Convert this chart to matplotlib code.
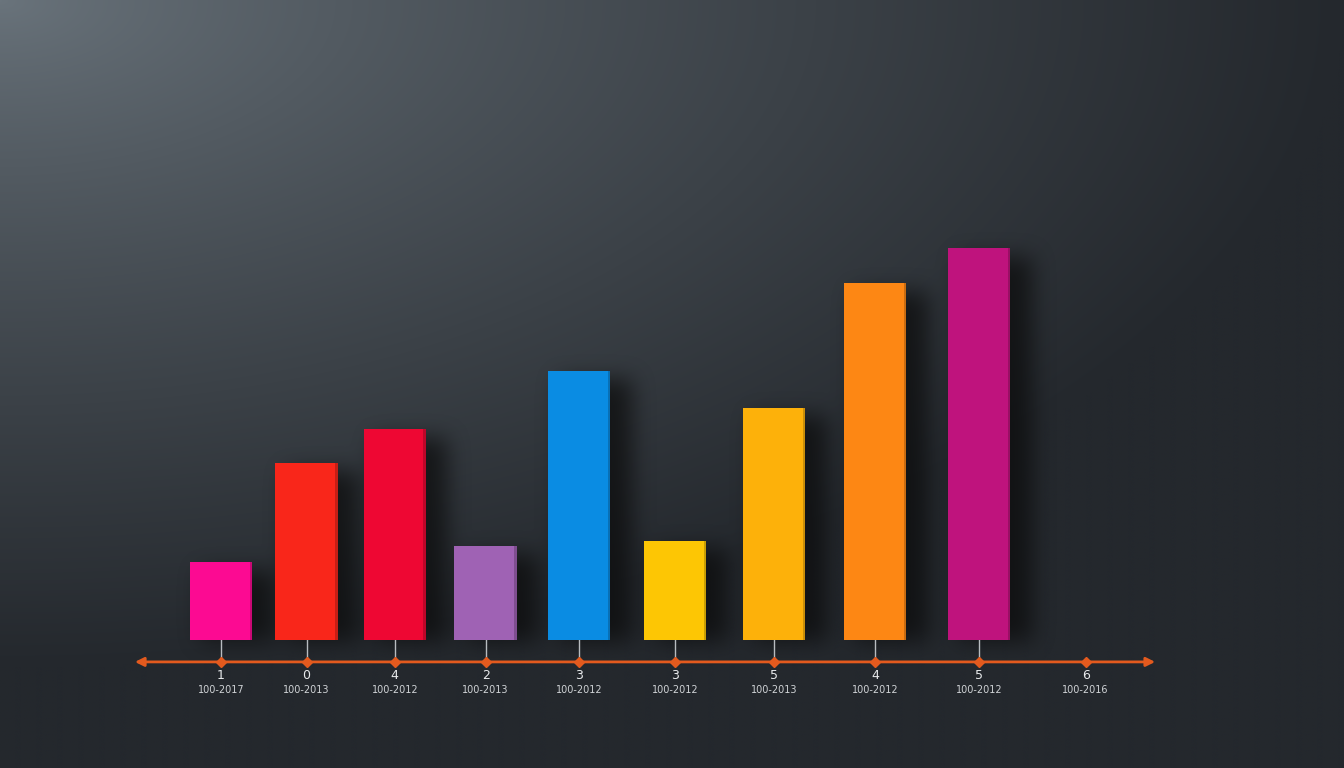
import numpy as np
import matplotlib
matplotlib.use("Agg")
import matplotlib.pyplot as plt

# values (arbitrary units, last slot has no bar)
values = [2.0, 4.55, 5.4, 2.4, 6.9, 2.55, 5.95, 9.15, 10.05]
bar_colors = ['#fc0a92', '#f9261a', '#ee0733', '#9f62b4', '#0a8ce3',
              '#fdc604', '#fdb10a', '#fd8714', '#bf137d']
tick_nums = ['1', '0', '4', '2', '3', '3', '5', '4', '5', '6']
tick_subs = ['100-2017', '100-2013', '100-2012', '100-2013', '100-2012',
             '100-2012', '100-2013', '100-2012', '100-2012', '100-2016']

W, H = 1344, 768
fig = plt.figure(figsize=(W / 100, H / 100), dpi=100)
ax = fig.add_axes([0, 0, 1, 1])
xlim = (-2.62, 13.32)
ylim = (-3.28, 16.41)
ax.set_xlim(*xlim)
ax.set_ylim(*ylim)
ax.axis('off')

# background: light grey-blue in the upper left corner, dark slate elsewhere
gx, gy = np.meshgrid(np.linspace(0, 1, 400), np.linspace(0, 1, 240))
r = np.sqrt(gx ** 2 + (gy * 1.15) ** 2)
d = np.clip(r / 1.0, 0, 1) ** 0.8
c0 = np.array([0x6a, 0x74, 0x7c]) / 255
c1 = np.array([0x24, 0x28, 0x2d]) / 255
bg = c0[None, None, :] * (1 - d[..., None]) + c1[None, None, :] * d[..., None]
ax.imshow(bg, extent=[xlim[0], xlim[1], ylim[0], ylim[1]], origin='upper',
          aspect='auto', zorder=0, interpolation='bilinear')

# slots widen a little to the right, like the original
n = len(tick_nums)
slots = np.arange(n) * (1 + 0.0155 * np.arange(n))
xb = slots[:len(values)]
w = 0.74


def box_blur(a, r):
    for axis in (0, 1):
        c = np.cumsum(np.pad(a, [(r + 1, r) if k == axis else (0, 0) for k in (0, 1)],
                             mode='edge'), axis=axis)
        if axis == 0:
            a = (c[2 * r + 1:] - c[:-2 * r - 1]) / (2 * r + 1)
        else:
            a = (c[:, 2 * r + 1:] - c[:, :-2 * r - 1]) / (2 * r + 1)
    return a


# soft drop shadow to the right of every bar
mask = np.zeros((H, W))
for xi, v in zip(xb, values):
    (px0, py0), (px1, py1) = ax.transData.transform([(xi - w / 2, 0), (xi + w / 2, v)])
    mask[int(py0):int(py1) - 8, int(px0) + 12:int(px1) + 22] = 1.0
for _ in range(3):
    mask = box_blur(mask, 10)
shadow = np.zeros((H, W, 4))
shadow[..., :3] = 0.04
shadow[..., 3] = np.clip(mask, 0, 1) * 0.7
ax.imshow(shadow, extent=[xlim[0], xlim[1], ylim[0], ylim[1]], origin='lower',
          aspect='auto', zorder=1, interpolation='bilinear')

ax.bar(xb, values, width=w, color=bar_colors, zorder=3, linewidth=0)
# faint darker right edge
for xi, v, c in zip(xb, values, bar_colors):
    dark = np.array(matplotlib.colors.to_rgb(c)) * 0.8
    ax.bar(xi + w / 2 - 0.015, v, width=0.03, color=dark, zorder=4, linewidth=0)

axis_y = -0.56

# stems from the bars down to the axis
for i, xi in enumerate(slots):
    top = 0 if i < len(values) else axis_y
    ax.plot([xi, xi], [top, axis_y], color='#b8bcc0', lw=1.0, zorder=2)

ax.annotate('', xy=(11.08, axis_y), xytext=(-1.02, axis_y),
            arrowprops=dict(arrowstyle='<|-|>', color='#e35a1e', lw=2.0,
                            mutation_scale=13, shrinkA=0, shrinkB=0), zorder=5)
ax.plot(slots, [axis_y] * n, 'D', color='#e35a1e', ms=5.5, zorder=6)

for xi, num, sub in zip(slots, tick_nums, tick_subs):
    ax.text(xi, axis_y - 0.36, num, color='#e8eaec', fontsize=9, ha='center',
            va='center', zorder=6)
    ax.text(xi, axis_y - 0.72, sub, color='#d0d3d6', fontsize=7, ha='center',
            va='center', zorder=6)

fig.savefig('out.png', dpi=100)
